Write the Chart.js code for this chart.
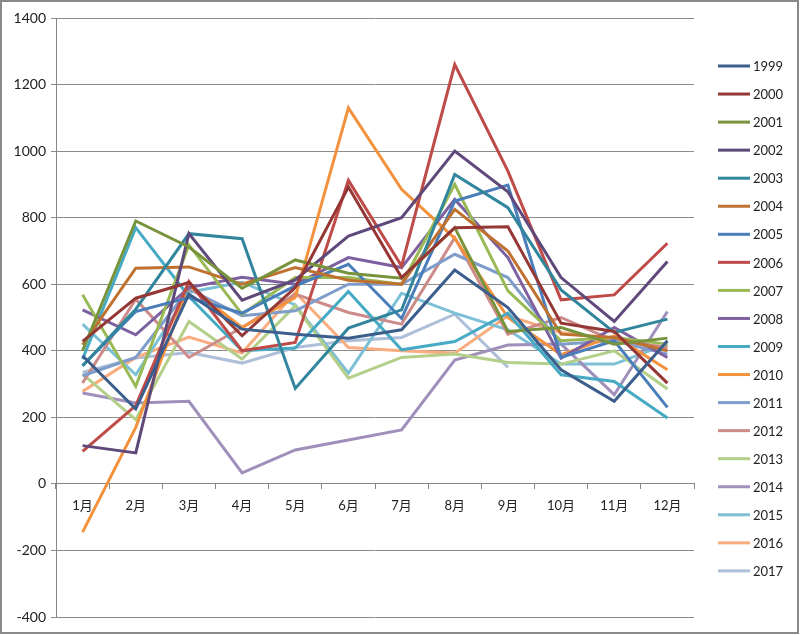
<!DOCTYPE html>
<html>
<head>
<meta charset="utf-8">
<script src="https://cdn.jsdelivr.net/npm/chart.js@4.4.0/dist/chart.umd.min.js"></script>
<style>
    html, body { margin: 0; padding: 0; background: #fff; }
</style>
</head>
<body>
<canvas id="chart" width="800" height="635"></canvas>
<script>
const months = ["1月", "2月", "3月", "4月", "5月", "6月", "7月", "8月", "9月", "10月", "11月", "12月"];
const yTicks = { min: -400, max: 1400, step: 200 };

// values, one list per year
const v1999 = [385, 225, 570, 465, 450, 438, 463, 643, 530, 343, 248, 430];
const v2000 = [428, 558, 605, 445, 590, 892, 620, 770, 773, 483, 458, 303];
const v2001 = [400, 790, 712, 588, 673, 633, 618, 770, 458, 470, 420, 438];
const v2002 = [115, 93, 752, 552, 613, 745, 800, 1000, 878, 620, 488, 668];
const v2003 = [355, 525, 752, 737, 287, 468, 523, 930, 830, 583, 455, 495];
const v2004 = [418, 648, 652, 600, 650, 612, 600, 825, 700, 450, 440, 400];
const v2005 = [355, 518, 560, 513, 595, 660, 497, 850, 898, 380, 430, 230];
const v2006 = [98, 235, 608, 400, 425, 912, 655, 1260, 940, 553, 568, 723];
const v2007 = [568, 293, 718, 510, 620, 620, 600, 900, 580, 430, 440, 420];
const v2008 = [523, 448, 590, 621, 600, 680, 650, 855, 680, 378, 470, 380];
const v2009 = [375, 770, 563, 400, 408, 578, 403, 428, 513, 328, 308, 198];
const v2010 = [-145, 170, 595, 470, 560, 1130, 885, 738, 500, 388, 445, 343];
const v2011 = [325, 380, 585, 505, 520, 600, 600, 690, 620, 420, 430, 390];
const v2012 = [303, 555, 380, 470, 570, 515, 480, 740, 450, 500, 430, 410];
const v2013 = [330, 193, 488, 375, 535, 318, 380, 390, 365, 360, 400, 285];
const v2014 = [273, 243, 248, 33, 102, 132, 162, 372, 417, 420, 268, 518];
const v2015 = [480, 328, 576, 606, 538, 333, 573, 513, 463, 360, 360, 420];
const v2016 = [278, 380, 441, 393, 575, 410, 400, 393, 505, 455, 435, 410];
const v2017 = [335, 378, 395, 363, 410, 430, 440, 510, 350];

const years = ["1999", "2000", "2001", "2002", "2003", "2004", "2005", "2006", "2007", "2008",
    "2009", "2010", "2011", "2012", "2013", "2014", "2015", "2016", "2017"];
const values = [v1999, v2000, v2001, v2002, v2003, v2004, v2005, v2006, v2007, v2008,
    v2009, v2010, v2011, v2012, v2013, v2014, v2015, v2016, v2017];
const colors = ["#3b5e8c", "#953735", "#77933c", "#5f497a", "#31859c", "#c0712f", "#4a7ebb",
    "#be4b48", "#98b954", "#7d60a0", "#46aac5", "#f3913d", "#7f9dca", "#cc8a88", "#b3cf89",
    "#a08fba", "#7cc0d6", "#f9ad7f", "#aebfd9"];

const font = { family: "Lato, 'Noto Sans CJK SC', sans-serif", size: 13 };

// excel style frame round the whole chart
const framePlugin = {
    id: "frame",
    beforeDraw(chart) {
        const ctx = chart.ctx;
        ctx.save();
        ctx.fillStyle = "#fff";
        ctx.fillRect(0, 0, chart.width, chart.height);
        ctx.restore();
    },
    afterDraw(chart) {
        const ctx = chart.ctx;
        ctx.save();
        ctx.strokeStyle = "#8a8a8a";
        ctx.lineWidth = 2;
        ctx.strokeRect(1, 1, chart.width - 3, chart.height - 3);
        ctx.restore();
    }
};

// legend column on the right, one row per year
const sideLegend = {
    id: "sideLegend",
    afterDraw(chart) {
        const ctx = chart.ctx;
        const top = 66, rowH = 28.05, x0 = 718;
        ctx.save();
        ctx.font = font.size + "px " + font.family;
        ctx.textBaseline = "middle";
        ctx.textAlign = "left";
        chart.data.datasets.forEach((ds, i) => {
            const y = top + i * rowH;
            ctx.strokeStyle = ds.borderColor;
            ctx.lineWidth = 3;
            ctx.beginPath();
            ctx.moveTo(x0, y);
            ctx.lineTo(x0 + 32, y);
            ctx.stroke();
            ctx.fillStyle = "#222";
            ctx.fillText(ds.label, x0 + 35, y + 1);
        });
        ctx.restore();
    }
};

const datasets = years.map((y, i) => ({
    label: y,
    data: values[i],
    borderColor: colors[i],
    backgroundColor: colors[i],
    borderWidth: 3,
    pointRadius: 0,
    tension: 0,
    fill: false
}));

new Chart(document.getElementById("chart").getContext("2d"), {
    type: "line",
    data: { labels: months, datasets },
    options: {
        responsive: false,
        animation: false,
        layout: { padding: { left: 0, right: 106, top: 18, bottom: 18 } },
        plugins: { legend: { display: false }, tooltip: { enabled: false } },
        scales: {
            x: {
                position: { y: 0 },
                offset: true,
                grid: { drawOnChartArea: false, offset: true, tickLength: 5, color: "#868686" },
                border: { color: "#868686" },
                ticks: { padding: 9, color: "#222", font, maxRotation: 0, autoSkip: false }
            },
            y: {
                min: yTicks.min,
                max: yTicks.max,
                ticks: {
                    stepSize: yTicks.step,
                    padding: 5,
                    color: "#222",
                    font: { ...font, size: 14 },
                    callback: v => String(v)
                },
                grid: { color: "#8c8c8c", tickLength: 5 },
                border: { color: "#868686" },
                afterFit: s => { s.width = 56; }
            }
        }
    },
    plugins: [framePlugin, sideLegend]
});
</script>
</body>
</html>
